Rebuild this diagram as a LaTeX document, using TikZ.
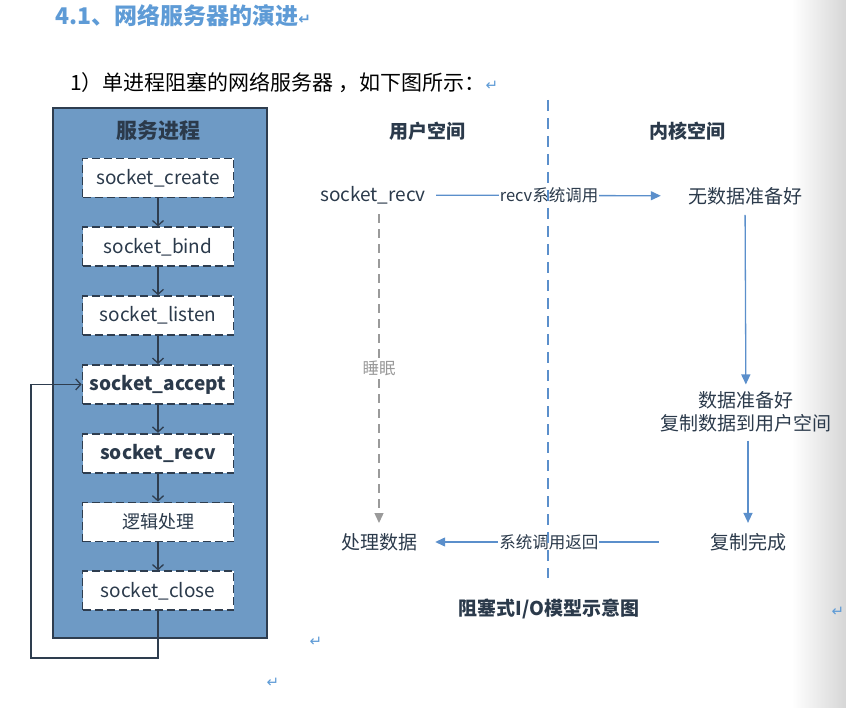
\documentclass[tikz,border=0pt]{standalone}
\usepackage{fontspec}
\setmainfont{Noto Sans CJK SC}
\newfontfamily\markfont{DejaVu Sans}
\usetikzlibrary{positioning,arrows.meta}
\definecolor{procblue}{HTML}{6E9AC5}
\definecolor{darkline}{HTML}{2E3D4F}
\definecolor{textdark}{HTML}{2B3A4B}
\definecolor{linkblue}{HTML}{5B8FCB}
\definecolor{headblue}{HTML}{5E9BD6}
\definecolor{sleepgray}{HTML}{9A9A9A}
\newcommand{\fsz}[1]{\fontsize{#1}{#1}\selectfont}
\newcommand{\pmark}{{\markfont\color{headblue}\fsz{15}↵}}

\begin{document}
\begin{tikzpicture}[x=1pt,y=-1pt,node distance=28pt,
  txt/.style={inner sep=0pt,text=textdark},
  callbox/.style={draw=darkline,fill=white,dash pattern=on 8pt off 4pt,line width=1.8pt,
    minimum width=151pt,minimum height=39pt,inner sep=0pt,text=textdark,font=\fsz{19}},
  callarrow/.style={draw=darkline,line width=1.3pt,-{Straight Barb[length=5pt,width=11pt,line width=1.3pt]}},
  linkarrow/.style={draw=linkblue,line width=1.3pt,-{Triangle[length=10pt,width=9pt]}},
  linklabel/.style={fill=white,inner sep=1pt,text=textdark,font=\fsz{16.5}},
  sleeparrow/.style={draw=sleepgray,line width=1.3pt,dash pattern=on 9pt off 6pt,-{Triangle[length=10pt,width=9pt]}}]

\useasboundingbox (0,0) rectangle (846,708);

% page shadow at the right edge
\shade[left color=white,right color=gray!32] (792,0) rectangle (846,708);

% heading lines
\node[txt,anchor=west,text=headblue,font=\fsz{23}\bfseries] (head) at (55,16) {4.1、网络服务器的演进\pmark};
\node[txt,anchor=west,text=black,font=\fsz{21}] (intro) at (70,83) {1）单进程阻塞的网络服务器 ，如下图所示：\pmark};

% service process
\node[draw=darkline,fill=procblue,line width=1.5pt,minimum width=214pt,minimum height=530pt] (proc) at (160,373) {};
\node[txt,font=\fsz{21}\bfseries] (proctitle) at (158,131) {服务进程};

\node[callbox] (create) at (158,178) {socket\_create};
\node[callbox,below=of create] (bind) {socket\_bind};
\node[callbox,below=of bind] (listen) {socket\_listen};
\node[callbox,below=of listen,font=\fsz{19}\bfseries] (accept) {socket\_accept};
\node[callbox,below=of accept,font=\fsz{19}\bfseries] (recv) {socket\_recv};
\node[callbox,below=of recv,font=\fsz{18}] (logic) {逻辑处理};
\node[callbox,below=of logic] (close) {socket\_close};

\draw[callarrow] (create) -- (bind);
\draw[callarrow] (bind) -- (listen);
\draw[callarrow] (listen) -- (accept);
\draw[callarrow] (accept) -- (recv);
\draw[callarrow] (recv) -- (logic);
\draw[callarrow] (logic) -- (close);

% back to accept
\coordinate (loopcorner) at (31,658);
\draw[callarrow] (close.south) |- (loopcorner) |- (accept.west);

% blocking I/O model
\node[txt,font=\fsz{19}\bfseries] (userspace) at (427,131) {用户空间};
\node[txt,font=\fsz{19}\bfseries] (kernelspace) at (687,131) {内核空间};

\node[txt,font=\fsz{19}] (urecv) at (373,195) {socket\_recv};
\node[txt,font=\fsz{19}] (nodata) at (745,196) {无数据准备好};
\node[txt,font=\fsz{19},align=center] (ready) at (746,412) {数据准备好\\[4pt]复制数据到用户空间};
\node[txt,font=\fsz{19}] (done) at (748,542) {复制完成};
\node[txt,font=\fsz{19}] (handle) at (379,542) {处理数据};

\draw[linkarrow,shorten <=10pt,shorten >=27pt] (urecv) -- node[linklabel,pos=0.47] {recv系统调用} (nodata);
\draw[linkarrow,shorten <=10pt,shorten >=7pt] (nodata) -- (ready);
\draw[linkarrow,shorten <=8pt,shorten >=10pt] (ready.south -| done) -- (done);
\draw[linkarrow,shorten <=51pt,shorten >=18pt] (done) -- node[linklabel,pos=0.55] {系统调用返回} (handle);
\draw[sleeparrow,shorten <=10pt,shorten >=10pt] (urecv.south -| handle) -- node[linklabel,text=sleepgray,pos=0.5] {睡眠} (handle);

% boundary between user and kernel space
\draw[linkblue,line width=2pt,dash pattern=on 11pt off 7pt] (548,100) -- (548,578);

\node[txt,font=\fsz{19}\bfseries] (caption) at (549,609) {阻塞式I/O模型示意图};

% paragraph marks
\node[txt] (mark1) at (838,612) {\pmark};
\node[txt] (mark2) at (316,642) {\pmark};
\node[txt] (mark3) at (273,683) {\pmark};

\end{tikzpicture}
\end{document}
